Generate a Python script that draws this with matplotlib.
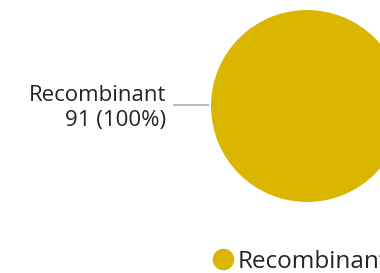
import matplotlib.pyplot as plt
from matplotlib.lines import Line2D

categories = ["Recombinant"]
counts = [91]
colors = ["#DAB600"]

W, H = 380, 273

fig = plt.figure(figsize=(W / 100, H / 100), dpi=100)
ax = fig.add_axes([0, 0, 1, 1])

cx, cy, r = 307, H - 106, 96
ax.pie(counts, colors=colors, center=(cx, cy), radius=r, startangle=90,
       wedgeprops=dict(linewidth=0), frame=True)
ax.set_xlim(0, W)
ax.set_ylim(0, H)
ax.set_aspect("equal")
ax.axis("off")

total = sum(counts)
label = f"{categories[0]}\n{counts[0]} ({counts[0] / total:.0%})"
ax.plot([174, 208], [H - 105, H - 105], color="#b3b3b3", lw=1.3)
ax.text(166, H - 108, label, ha="right", va="center", fontsize=16,
        family="Open Sans", color="#252423", linespacing=1.3)

handles = [Line2D([], [], marker="o", ls="", color=c, markersize=14.5) for c in colors]
fig.legend(handles, categories, loc="center left", bbox_to_anchor=(199 / W, 11 / H),
           frameon=False, prop=dict(family="Open Sans", size=17.5),
           handletextpad=0.1, borderpad=0, handlelength=1.0, labelcolor="#252423")

fig.savefig("out.png", dpi=100)
